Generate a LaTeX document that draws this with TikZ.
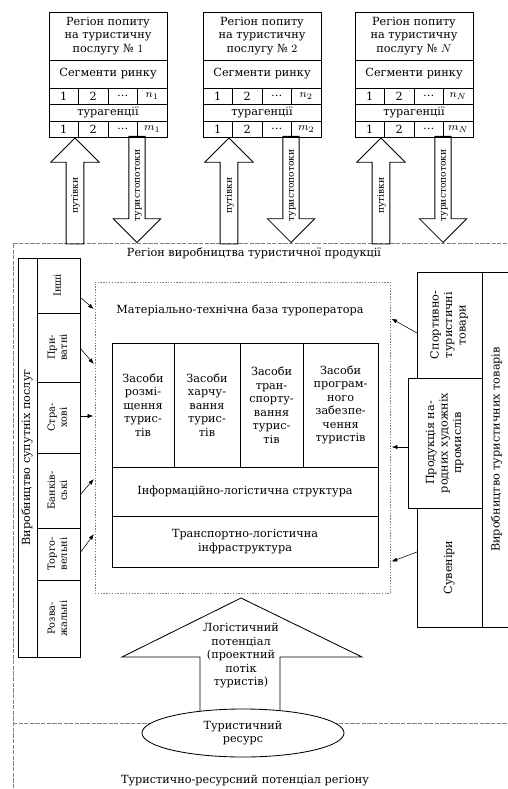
\documentclass[tikz,border=0pt]{standalone}
\usepackage{graphicx}
\usepackage{fontspec}
\setmainfont{DejaVu Serif}
\usetikzlibrary{positioning,shapes.arrows,shapes.geometric,arrows.meta}
\newcommand{\vlab}[1]{\rotatebox{90}{\begin{tabular}{@{}c@{}}#1\end{tabular}}}

\begin{document}
\begin{tikzpicture}[
    x=0.025cm, y=-0.025cm,
    every node/.style={font=\fontsize{8}{9.6}\selectfont, inner sep=1pt},
    box/.style={draw, semithick, align=center, outer sep=0pt},
    numcell/.style={box, minimum width=0.7375cm, minimum height=0.41cm},
    strip/.style={box, minimum width=2.95cm, minimum height=0.425cm},
    side/.style={box, font=\fontsize{7}{8.4}\selectfont, minimum width=1.075cm},
    zasib/.style={box, minimum height=3.1cm},
    tripsarrow/.style={single arrow, draw, semithick, rotate=90, anchor=tip, minimum height=2.65cm,
        single arrow head extend=11pt, text height=5pt, text depth=1pt,
        inner xsep=2pt, inner ysep=3pt, font=\fontsize{6.5}{7}\selectfont},
    flowarrow/.style={tripsarrow, shape border rotate=180, inner ysep=2.5pt},
    region/.style={draw=gray, thin, dash pattern=on 3pt off 1pt},
    conn/.style={-{Latex[length=4pt,width=3pt]}, shorten >=1pt}
]
\useasboundingbox (0,0) rectangle (507,789);

\draw[region] (507,243) -| (13,789);
\draw[region] (13,723) -- (507,723);

\foreach \bx/\k in {108/1, 262/2, 414/N} {
    \node[box, minimum width=2.95cm, minimum height=1.2cm] (dem\k) at (\bx,36)
        {Регіон попиту\\на туристичну\\послугу № $\k$};
    \node[box, minimum width=2.95cm, minimum height=0.7cm, below=0pt of dem\k] (seg\k) {Сегменти ринку};
    \foreach \t [count=\j] in {1,2,\dots,$n_\k$}
        \node[numcell] (n\k\j) at (\bx+29.5*\j-73.75,96.2) {\t};
    \node[strip] (ag\k) at (\bx,112.7) {турагенції};
    \foreach \t [count=\j] in {1,2,\dots,$m_\k$}
        \node[numcell] (m\k\j) at (\bx+29.5*\j-73.75,129.2) {\t};
    \node[tripsarrow] (trip\k) at (\bx-33,137.4) {путівки};
    \node[flowarrow] (flow\k) at (\bx+29,243) {туристопотоки};
}

\node (prodreg) at (254,253) {Регіон виробництва туристичної продукції};

\node[box, minimum width=0.475cm, minimum height=9.975cm] (suput) at (27.5,457.5)
    {\vlab{Виробництво супутніх послуг}};
\node[side, minimum height=1.375cm, anchor=north west] (inshi) at (suput.north east) {\vlab{Інші}};
\node[side, minimum height=1.725cm, below=0pt of inshi] (pryv) {\vlab{При-\\ватні}};
\node[side, minimum height=1.775cm, below=0pt of pryv] (strakh) {\vlab{Стра-\\хові}};
\node[side, minimum height=1.875cm, below=0pt of strakh] (bank) {\vlab{Банків-\\ські}};
\node[side, minimum height=1.3cm, below=0pt of bank] (torh) {\vlab{Торго-\\вельні}};
\node[side, minimum height=1.925cm, below=0pt of torh] (rozv) {\vlab{Розва-\\жальні}};

\node[draw=gray, dash pattern=on 1pt off 1pt, minimum width=7.375cm, minimum height=7.775cm] (matbase) at (242.5,437.5) {};
\node (mtb) at (240,310) {Матеріально-технічна база туроператора};
\node[zasib, minimum width=1.55cm] (rozm) at (143,405) {Засоби\\розмі-\\щення\\турис-\\тів};
\node[zasib, minimum width=1.65cm, right=0pt of rozm] (kharch) {Засоби\\харчу-\\вання\\турис-\\тів};
\node[zasib, minimum width=1.575cm, right=0pt of kharch] (transp) {Засоби\\тран-\\спорту-\\вання\\турис-\\тів};
\node[zasib, minimum width=1.875cm, right=0pt of transp] (prog) {Засоби\\програм-\\ного\\забезпе-\\чення\\туристів};
\node[box, minimum width=6.65cm, minimum height=1.225cm, anchor=north west] (info) at (rozm.south west)
    {Інформаційно-логістична структура};
\node[box, minimum width=6.65cm, minimum height=1.275cm, below=0pt of info] (tli)
    {Транспортно-логістична\\інфраструктура};

\node[box, minimum width=0.75cm, minimum height=8.875cm] (tovary) at (497,449.5)
    {\vlab{Виробництво туристичних товарів}};
\node[box, minimum width=1.625cm, minimum height=2.65cm, anchor=north east] (sport) at (tovary.north west)
    {\vlab{Спортивно-\\туристичні\\товари}};
\node[box, minimum width=1.85cm, minimum height=3.25cm, anchor=north east] (prod) at (sport.south east)
    {\vlab{Продукція на-\\родних художніх\\промислів}};
\node[box, minimum width=1.625cm, minimum height=2.975cm, anchor=north east] (suv) at (prod.south east)
    {\vlab{Сувеніри}};

\draw[conn] (inshi.east |- 0,297) -- (matbase.west |- 0,310);
\draw[conn] (pryv.east |- 0,348) -- (matbase.west |- 0,365);
\draw[conn] (strakh.east |- 0,416) -- (matbase.west |- 0,416);
\draw[conn] (bank.east |- 0,495) -- (matbase.west |- 0,478);
\draw[conn] (torh.east |- 0,553) -- (matbase.west |- 0,533);
\draw[conn] (sport.west |- 0,333) -- (matbase.east |- 0,318);
\draw[conn] (prod.west |- 0,447) -- (matbase.east |- 0,447);
\draw[conn] (suv.west |- 0,552) -- (matbase.east |- 0,562);

\draw[semithick, fill=white] (241,598) -- (362,657) -- (280,657) -- (280,717) -- (200,717) -- (200,657) -- (122,657) -- cycle;
\node[align=center] (logpot) at (241,656) {Логістичний\\потенціал\\(проектний\\потік\\туристів)};
\node[ellipse, draw, semithick, fill=white, align=center, minimum width=5.05cm, minimum height=1.2cm] (resurs) at (243,733)
    {Туристичний\\ресурс};

\node (resreg) at (245,781) {Туристично-ресурсний потенціал регіону};
\end{tikzpicture}
\end{document}
